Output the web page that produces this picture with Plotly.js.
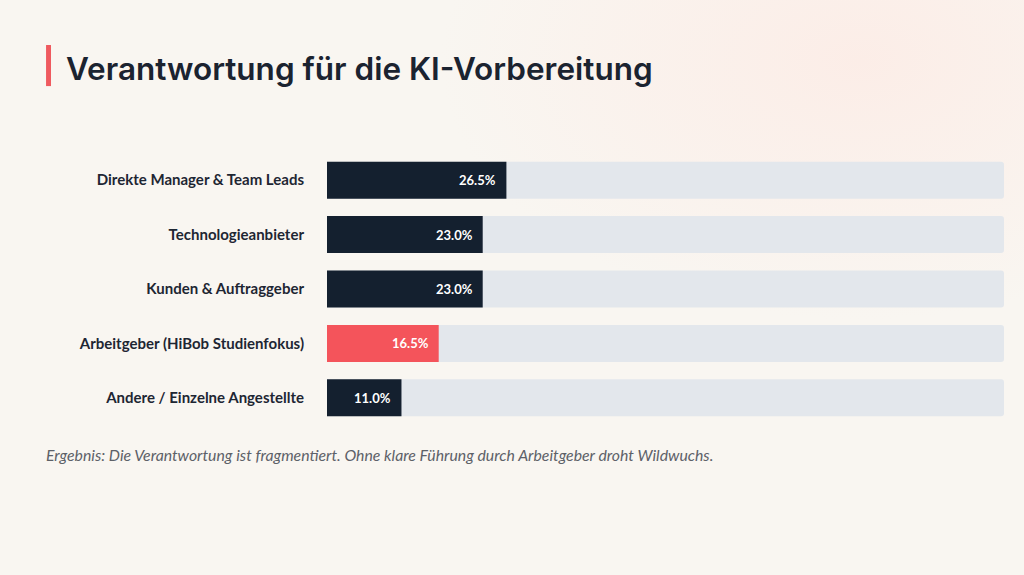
<!DOCTYPE html>
<html><head><meta charset="utf-8">
<script src="https://cdn.plot.ly/plotly-3.0.1.min.js"></script>
<style>
html,body{margin:0;padding:0;width:1024px;height:575px;overflow:hidden;
background:#f9f6f1;
background-image:radial-gradient(ellipse 420px 260px at 860px 60px, rgba(252,236,230,0.9), rgba(249,246,241,0) 100%);}
#chart{width:1024px;height:575px;}
</style></head>
<body><div id="chart"></div>
<script>
const categories = ["Direkte Manager & Team Leads","Technologieanbieter","Kunden & Auftraggeber","Arbeitgeber (HiBob Studienfokus)","Andere / Einzelne Angestellte"];
const values = [26.5, 23.0, 23.0, 16.5, 11.0];
const highlight = [false, false, false, true, false];
const trackMax = 100;
const titleText = "Verantwortung für die KI-Vorbereitung";
const footnote = "Ergebnis: Die Verantwortung ist fragmentiert. Ohne klare Führung durch Arbeitgeber droht Wildwuchs.";

const navy = "#14202f", red = "#f4545b", track = "#e3e7ec";

const traces = [
  {type:"bar", orientation:"h", y:categories, x:categories.map(()=>trackMax),
   marker:{color:track}, hoverinfo:"skip", width:0.68},
  {type:"bar", orientation:"h", y:categories, x:values,
   marker:{color:highlight.map(h=>h?red:navy)}, width:0.68, hoverinfo:"skip"}
];

const annotations = values.map((v,i)=>({
  x:v, y:categories[i], xref:"x", yref:"y", xanchor:"right", xshift:-8,
  text:v.toFixed(1)+"%", showarrow:false,
  font:{family:"Lato", size:13, color:"#ffffff", weight:700}
}));
annotations.push({
  xref:"paper", yref:"paper", x:-0.418, y:-0.110, xanchor:"left", yanchor:"middle",
  text:"<i>"+footnote+"</i>", showarrow:false, align:"left",
  font:{family:"Lato", size:15.8, color:"#5d6168"}
});
annotations.push({
  xref:"paper", yref:"paper", x:-0.388, y:1.3125, xanchor:"left", yanchor:"middle",
  text:titleText, showarrow:false,
  font:{family:"Inter", size:31.5, color:"#1b2330", weight:600}
});

const layout = {
  width:1024, height:575,
  paper_bgcolor:"rgba(0,0,0,0)", plot_bgcolor:"rgba(0,0,0,0)",
  margin:{l:327, r:20, t:153, b:150},
  barmode:"overlay", barcornerradius:3, showlegend:false,
  xaxis:{range:[0,trackMax], visible:false, fixedrange:true},
  yaxis:{autorange:"reversed", showgrid:false, zeroline:false, showline:false, ticks:"",
         ticklabelstandoff:22,
         tickfont:{family:"Lato", size:15, color:"#1e2633", weight:700}},
  annotations:annotations,
  shapes:[{type:"rect", xref:"paper", yref:"paper", x0:-0.415, x1:-0.4077, y0:1.246, y1:1.397,
           fillcolor:"#ef5a5f", line:{width:0}}]
};
Plotly.newPlot("chart", traces, layout, {displayModeBar:false, staticPlot:true});
</script></body></html>
